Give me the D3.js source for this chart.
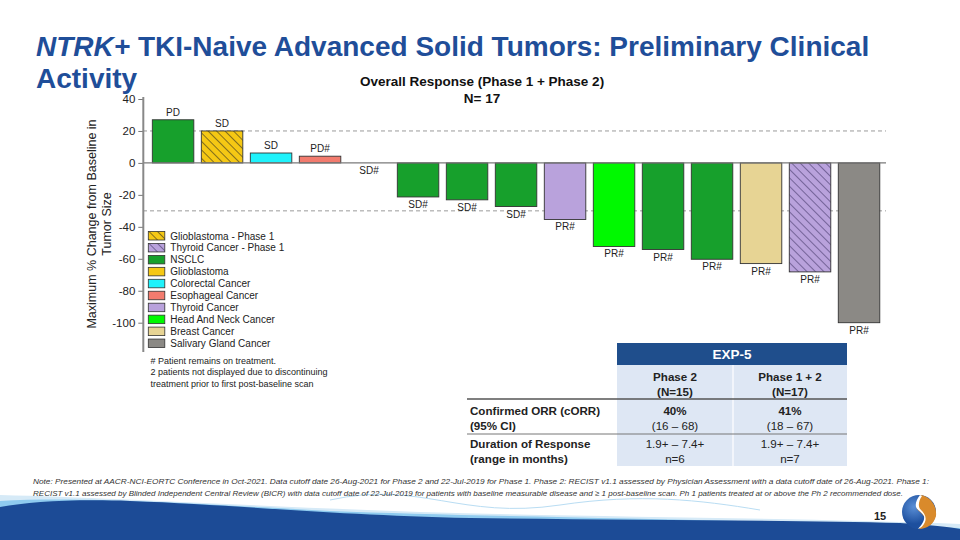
<!DOCTYPE html>
<html>
<head>
<meta charset="utf-8">
<script src="https://cdn.jsdelivr.net/npm/d3@7"></script>
<style>
  html, body { margin: 0; padding: 0; background: #fff; }
  svg { display: block; font-family: "Liberation Sans", Arial, sans-serif; }
</style>
</head>
<body>
<svg id="chart" width="960" height="540"></svg>
<script>
// ---------------- DATA ----------------
const patients = ["P1","P2","P3","P4","P5","P6","P7","P8","P9","P10","P11","P12","P13","P14","P15"];
const changeValues = [27, 20, 6.2, 4.2, 0, -21.3, -23.1, -27.3, -35.4, -52.3, -54.2, -60.3, -63, -68.2, -100];
const responses = ["PD","SD","SD","PD#","SD#","SD#","SD#","SD#","PR#","PR#","PR#","PR#","PR#","PR#","PR#"];
const tumorTypes = ["NSCLC","Glioblastoma - Phase 1","Colorectal Cancer","Esophageal Cancer","NSCLC","NSCLC","NSCLC","NSCLC",
  "Thyroid Cancer","Head And Neck Cancer","NSCLC","NSCLC","Breast Cancer","Thyroid Cancer - Phase 1","Salivary Gland Cancer"];
const legendNames = ["Glioblastoma - Phase 1","Thyroid Cancer - Phase 1","NSCLC","Glioblastoma","Colorectal Cancer",
  "Esophageal Cancer","Thyroid Cancer","Head And Neck Cancer","Breast Cancer","Salivary Gland Cancer"];
const legendColors = ["#f5c814","#b9a2dc","#17a02c","#f5c814","#1ff2fb","#f27b6e","#b9a2dc","#00f900","#e7d494","#8b8985"];
const hatchedTypes = ["Glioblastoma - Phase 1","Thyroid Cancer - Phase 1"];
const yTicks = [40, 20, 0, -20, -40, -60, -80, -100];
const refLines = [20, -30];

const tableGroup = "EXP-5";
const tableCols = [["Phase 2","(N=15)"],["Phase 1 + 2","(N=17)"]];
const tableRowLabels = [["Confirmed ORR (cORR)","(95% CI)"],["Duration of Response","(range in months)"]];
const tableCells = [
  [["40%","(16 – 68)"],["41%","(18 – 67)"]],
  [["1.9+ – 7.4+","n=6"],["1.9+ – 7.4+","n=7"]]
];
const notes = ["# Patient remains on treatment.","2 patients not displayed due to discontinuing","treatment prior to first post-baseline scan"];
const footnote = [
  "Note: Presented at AACR-NCI-EORTC Conference in Oct-2021. Data cutoff date 26-Aug-2021 for Phase 2 and 22-Jul-2019 for Phase 1. Phase 2: RECIST v1.1 assessed by Physician Assessment with a data cutoff date of 26-Aug-2021. Phase 1:",
  "RECIST v1.1  assessed by Blinded Independent Central Review (BICR) with data cutoff date of 22-Jul-2019 for patients with baseline measurable disease and ≥ 1 post-baseline scan. Ph 1 patients treated at or above the Ph 2 recommended dose."
];

// ---------------- DRAW ----------------
const svg = d3.select("#chart");
const blue = "#1f4e99";
const colorOf = d3.scaleOrdinal().domain(legendNames).range(legendColors);

// patterns
const defs = svg.append("defs");
hatchedTypes.forEach((t, i) => {
  const p = defs.append("pattern").attr("id", "hatch" + i).attr("patternUnits", "userSpaceOnUse")
    .attr("width", 6).attr("height", 6).attr("patternTransform", "rotate(-45)");
  p.append("rect").attr("width", 6).attr("height", 6).attr("fill", colorOf(t));
  p.append("line").attr("x1", 0).attr("y1", 0).attr("x2", 0).attr("y2", 6)
    .attr("stroke", i === 0 ? "#222" : "#3a2f60").attr("stroke-width", 1.1);
});
const fillOf = t => hatchedTypes.includes(t) ? `url(#hatch${hatchedTypes.indexOf(t)})` : colorOf(t);

// bottom decorative waves
svg.append("path").attr("fill", "#d6eaf7")
  .attr("d", "M0,495 C120,498 250,506 420,512 C600,517 800,518 960,524 L960,540 L0,540 Z");
svg.append("path").attr("fill", "#8fcbef")
  .attr("d", "M0,501 C80,496 200,504 330,511 C480,517 700,518 960,528 L960,540 L0,540 Z");
svg.append("path").attr("fill", "#1c4b96")
  .attr("d", "M0,507 C30,502 70,499 130,501 C240,505 330,515 470,518 C620,520 800,520 900,523 C930,525 950,527 960,529 L960,540 L0,540 Z");
svg.append("path").attr("fill", "none").attr("stroke", "#b9ddf3").attr("stroke-width", 1)
  .attr("d", "M330,500 C420,480 460,520 560,505 C640,493 700,500 760,510");

// Title
const title = svg.append("text").attr("x", 36).attr("y", 56).attr("fill", blue)
  .attr("font-size", 28).attr("font-weight", "bold");
title.append("tspan").attr("font-style", "italic").text("NTRK+");
title.append("tspan").text(" TKI-Naive Advanced Solid Tumors: Preliminary Clinical");
svg.append("text").attr("x", 36).attr("y", 88).attr("fill", blue)
  .attr("font-size", 28).attr("font-weight", "bold").text("Activity");

// Chart title
svg.append("text").attr("x", 482).attr("y", 86).attr("text-anchor", "middle")
  .attr("font-size", 13.5).attr("font-weight", "bold").attr("fill", "#111").text("Overall Response (Phase 1 + Phase 2)");
svg.append("text").attr("x", 482).attr("y", 103).attr("text-anchor", "middle")
  .attr("font-size", 13.5).attr("font-weight", "bold").attr("fill", "#111").text("N= 17");

// scales
const y = d3.scaleLinear().domain([-100, 40]).range([322.7, 99]);
const x = d3.scaleBand().domain(patients).range([143.3, 888.8]).paddingInner(0.153).paddingOuter(0.184);
const xEnd = 886;

// reference dashed lines
svg.append("g").selectAll("line").data(refLines).join("line")
  .attr("x1", 143).attr("x2", xEnd).attr("y1", d => y(d)).attr("y2", d => y(d))
  .attr("stroke", "#9a9a9a").attr("stroke-width", 1).attr("stroke-dasharray", "4,3");

// bars
svg.append("g").selectAll("rect").data(patients).join("rect")
  .attr("x", d => x(d)).attr("width", x.bandwidth())
  .attr("y", (d, i) => y(Math.max(0, changeValues[i])))
  .attr("height", (d, i) => Math.abs(y(changeValues[i]) - y(0)))
  .attr("fill", (d, i) => fillOf(tumorTypes[i]))
  .attr("stroke", "#333").attr("stroke-width", 0.9);

// zero line
svg.append("line").attr("x1", 143).attr("x2", xEnd).attr("y1", y(0)).attr("y2", y(0))
  .attr("stroke", "#7a7a7a").attr("stroke-width", 1.2);

// bar labels
svg.append("g").selectAll("text").data(patients).join("text")
  .attr("x", d => x(d) + x.bandwidth() / 2)
  .attr("y", (d, i) => changeValues[i] > 0 ? y(changeValues[i]) - 4 : y(changeValues[i]) + 11)
  .attr("text-anchor", "middle").attr("font-size", 10).attr("fill", "#222")
  .text((d, i) => responses[i]);

// y axis
const yAxis = d3.axisLeft(y).tickValues(yTicks).tickSize(5).tickPadding(3).tickFormat(d => String(d));
const ga = svg.append("g").attr("transform", "translate(143.3,0)").call(yAxis);
ga.select(".domain").remove();
ga.selectAll(".tick line").attr("stroke", "#777");
ga.selectAll(".tick text").attr("font-size", 11.5).attr("fill", "#222").attr("font-family", "Liberation Sans, Arial, sans-serif");
svg.append("line").attr("x1", 143.3).attr("x2", 143.3).attr("y1", 97).attr("y2", 352)
  .attr("stroke", "#888").attr("stroke-width", 2);

// y axis label
const yl = svg.append("text").attr("transform", "translate(96,224) rotate(-90)")
  .attr("text-anchor", "middle").attr("font-size", 12.5).attr("fill", "#222");
yl.append("tspan").attr("x", 0).attr("dy", 0).text("Maximum % Change from Baseline in");
yl.append("tspan").attr("x", 0).attr("dy", 15).text("Tumor Size");

// legend
const lg = svg.append("g").selectAll("g").data(legendNames).join("g")
  .attr("transform", (d, i) => `translate(148.3,${231.5 + i * 11.95})`);
lg.append("rect").attr("width", 16.5).attr("height", 8.5)
  .attr("fill", d => fillOf(d)).attr("stroke", "#333").attr("stroke-width", 0.8);
lg.append("text").attr("x", 22).attr("y", 8).attr("font-size", 10).attr("fill", "#222").text(d => d);

// notes
svg.append("g").selectAll("text").data(notes).join("text")
  .attr("x", 150.5).attr("y", (d, i) => 363.5 + i * 11.7).attr("font-size", 9).attr("fill", "#222").text(d => d);

// table
const tX0 = 467, c1 = 617, c2 = 733, c3 = 847;
const tfs = 11.6;
svg.append("rect").attr("x", c1).attr("y", 343).attr("width", c3 - c1).attr("height", 22).attr("fill", "#1f4e8c");
svg.append("text").attr("x", (c1 + c3) / 2).attr("y", 359).attr("text-anchor", "middle")
  .attr("font-size", 13.5).attr("font-weight", "bold").attr("fill", "#fff").text(tableGroup);
svg.append("rect").attr("x", c1).attr("y", 365).attr("width", c3 - c1).attr("height", 101).attr("fill", "#dee7f4");
svg.append("line").attr("x1", c2).attr("x2", c2).attr("y1", 365).attr("y2", 466).attr("stroke", "#fff").attr("stroke-width", 1.2);
const colCenters = [(c1 + c2) / 2, (c2 + c3) / 2];
tableCols.forEach((lines, j) => {
  lines.forEach((t, k) => svg.append("text").attr("x", colCenters[j]).attr("y", 381 + k * 14.5)
    .attr("text-anchor", "middle").attr("font-size", tfs).attr("font-weight", "bold").attr("fill", "#222").text(t));
});
svg.append("line").attr("x1", tX0).attr("x2", c3).attr("y1", 399).attr("y2", 399).attr("stroke", "#555").attr("stroke-width", 1.3);
svg.append("line").attr("x1", tX0).attr("x2", c3).attr("y1", 434).attr("y2", 434).attr("stroke", "#777").attr("stroke-width", 1);
const rowBase = [415, 448];
tableRowLabels.forEach((lines, r) => {
  lines.forEach((t, k) => svg.append("text").attr("x", 470).attr("y", rowBase[r] + k * 14.5)
    .attr("font-size", tfs).attr("font-weight", "bold").attr("fill", "#222").text(t));
  tableCells[r].forEach((cell, j) => {
    cell.forEach((t, k) => svg.append("text").attr("x", colCenters[j]).attr("y", rowBase[r] + k * 14.5)
      .attr("text-anchor", "middle").attr("font-size", tfs)
      .attr("font-weight", (r === 0 && k === 0) ? "bold" : "normal").attr("fill", "#222").text(t));
  });
});

// footnote
const fnLen = [896, 870];
footnote.forEach((t, i) => {
  svg.append("text").attr("x", 33).attr("y", 483.5 + i * 12).attr("font-size", 8).attr("font-style", "italic")
    .attr("fill", "#333").attr("textLength", fnLen[i]).attr("lengthAdjust", "spacingAndGlyphs").text(t);
});

// page number
svg.append("text").attr("x", 880).attr("y", 520).attr("text-anchor", "middle")
  .attr("font-size", 11).attr("font-weight", "bold").attr("fill", "#222").text("15");

// logo
const lgG = svg.append("g").attr("transform", "translate(919,512)");
const grad = defs.append("radialGradient").attr("id", "lgrad").attr("cx", "35%").attr("cy", "35%");
grad.append("stop").attr("offset", "0%").attr("stop-color", "#5a8fd6");
grad.append("stop").attr("offset", "100%").attr("stop-color", "#1d4f9e");
lgG.append("circle").attr("r", 17).attr("fill", "url(#lgrad)");
lgG.append("path").attr("fill", "#d98a2b")
  .attr("d", "M2,-17 C12,-15 18,-6 17,4 C15,12 8,17 0,17 C4,12 8,8 4,3 C0,-2 -4,-2 -2,-8 C0,-12 2,-14 2,-17 Z");
lgG.append("path").attr("fill", "#fff")
  .attr("d", "M1,-17 C-2,-13 -4,-9 -3,-5 C-1,-1 3,0 5,4 C6,9 2,14 -1,17 C2,16 4,14 6,10 C8,5 5,1 2,-2 C-1,-5 -1,-10 3,-16 Z");
</script>
</body>
</html>
